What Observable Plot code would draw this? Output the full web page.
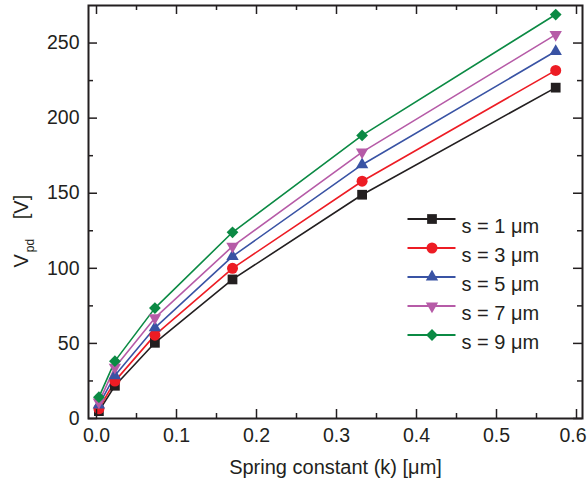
<!DOCTYPE html>
<html>
<head>
<meta charset="utf-8">
<script src="https://cdn.jsdelivr.net/npm/d3@7"></script>
<script src="https://cdn.jsdelivr.net/npm/@observablehq/plot@0.6"></script>
<style>
  html, body { margin: 0; padding: 0; background: #fff; }
</style>
</head>
<body>
<div id="chart"></div>
<script>
// ---- data ----
const kValues = [0.003, 0.023, 0.073, 0.17, 0.332, 0.574];
const seriesNames = ["s = 1 μm", "s = 3 μm", "s = 5 μm", "s = 7 μm", "s = 9 μm"];
const s1 = [4.9, 21.8, 50.4, 92.6, 149.0, 220.3];
const s3 = [6.5, 24.9, 55.5, 100.0, 158.0, 231.8];
const s5 = [9.1, 28.6, 60.4, 108.0, 169.0, 244.5];
const s7 = [10.9, 34.0, 67.0, 114.6, 177.4, 255.6];
const s9 = [14.2, 38.2, 73.5, 124.0, 188.5, 269.0];
const seriesValues = [s1, s3, s5, s7, s9];

const xMajorTicks = [0, 0.1, 0.2, 0.3, 0.4, 0.5, 0.6];
const xMinorTicks = [0.05, 0.15, 0.25, 0.35, 0.45, 0.55];
const yMajorTicks = [0, 50, 100, 150, 200, 250];
const yMinorTicks = [25, 75, 125, 175, 225];

const xLabel = "Spring constant (k) [μm]";
const yLabel = "Vpd [V]";

// ---- styles ----
const ink = "#231f20";
const seriesColors = ["#231f20", "#ed1c24", "#3953a4", "#b65ba7", "#0b8a44"];
const sqrt3 = Math.sqrt(3);
const triangleDown = {
  draw(context, size) {
    const y = -Math.sqrt(size / (sqrt3 * 3));
    context.moveTo(0, -y * 2);
    context.lineTo(-sqrt3 * y, y);
    context.lineTo(sqrt3 * y, y);
    context.closePath();
  }
};
const seriesSymbols = ["square", "circle", "triangle", triangleDown, "diamond2"];
const seriesR = [5.5, 5.5, 4.6, 4.6, 5.3];
const lineShape = {
  draw(context, l) { context.moveTo(0, 0); context.lineTo(0, -l); }
};

const W = 588, H = 494;
const mL = 88, mR = 6, mT = 5, mB = 76;
const innerW = W - mL - mR, innerH = H - mT - mB;
const fontSize = 20;
const tickFont = 19.5;

const marks = [];

// series lines and markers
seriesValues.forEach((vals, i) => {
  const rows = kValues.map((k, j) => ({k, v: vals[j], series: seriesNames[i]}));
  marks.push(Plot.line(rows, {x: "k", y: "v", stroke: seriesColors[i], strokeWidth: 1.6}));
});
seriesValues.forEach((vals, i) => {
  const rows = kValues.map((k, j) => ({k, v: vals[j], series: seriesNames[i]}));
  marks.push(Plot.dot(rows, {x: "k", y: "v", fill: seriesColors[i], symbol: seriesSymbols[i], r: seriesR[i]}));
});

// inward ticks on all four sides
const tk = {stroke: ink, strokeWidth: 1.5};
marks.push(
  Plot.tickX(xMajorTicks, {x: d => d, insetTop: innerH - 9, ...tk}),
  Plot.tickX(xMinorTicks, {x: d => d, insetTop: innerH - 5, ...tk}),
  Plot.tickX(xMajorTicks, {x: d => d, insetBottom: innerH - 9, ...tk}),
  Plot.tickX(xMinorTicks, {x: d => d, insetBottom: innerH - 5, ...tk}),
  Plot.tickY(yMajorTicks, {y: d => d, insetRight: innerW - 9, ...tk}),
  Plot.tickY(yMinorTicks, {y: d => d, insetRight: innerW - 5, ...tk}),
  Plot.tickY(yMajorTicks, {y: d => d, insetLeft: innerW - 9, ...tk}),
  Plot.tickY(yMinorTicks, {y: d => d, insetLeft: innerW - 5, ...tk})
);

marks.push(Plot.frame({stroke: ink, strokeWidth: 2}));

// axes labels
const xFmt = d3.format(".1f");
marks.push(
  Plot.axisX({ticks: xMajorTicks.slice(0, -1), tickSize: 0, tickPadding: 10, tickFormat: xFmt, label: null, fontSize: tickFont, fill: ink}),
  Plot.axisX({ticks: xMajorTicks.slice(-1), tickSize: 0, tickPadding: 10, tickFormat: xFmt, label: null, fontSize: tickFont, fill: ink, dx: -3.5}),
  Plot.axisY({ticks: yMajorTicks, tickSize: 0, tickPadding: 9, tickFormat: d3.format("d"), label: null, fontSize: tickFont, fill: ink}),
  Plot.text([xLabel], {frameAnchor: "bottom", dy: 55, text: d => d, fontSize, fill: ink}),
  Plot.text([yLabel], {frameAnchor: "left", dx: -67, dy: 55.5, rotate: -90, textAnchor: "start", text: d => d, fontSize, fill: ink})
);

// legend
seriesNames.forEach((name, i) => {
  const dy = 213.5 + 29 * i;
  marks.push(
    Plot.vector([name], {frameAnchor: "top-left", dx: 319, dy, length: 48, rotate: 90, anchor: "start", shape: lineShape, stroke: seriesColors[i], strokeWidth: 2, strokeLinecap: "butt"}),
    Plot.dot([name], {frameAnchor: "top-left", dx: 343.5, dy, symbol: seriesSymbols[i], fill: seriesColors[i], r: seriesR[i]}),
    Plot.text([name], {frameAnchor: "top-left", dx: 373, dy, text: d => d, textAnchor: "start", fontSize, fill: ink})
  );
});

const chart = Plot.plot({
  width: W,
  height: H,
  marginLeft: mL,
  marginRight: mR,
  marginTop: mT,
  marginBottom: mB,
  style: {fontFamily: "'Liberation Sans', Arial, sans-serif", fontSize: fontSize + "px", color: ink, background: "#fff"},
  x: {domain: [-0.01, 0.6075], axis: null},
  y: {domain: [0, 275], axis: null},
  marks
});

// subscript in y label
chart.querySelectorAll("text").forEach(t => {
  if (t.textContent === yLabel) {
    t.textContent = "";
    const ns = "http://www.w3.org/2000/svg";
    const a = document.createElementNS(ns, "tspan"); a.textContent = "V";
    const b = document.createElementNS(ns, "tspan"); b.textContent = "pd";
    b.setAttribute("font-size", "12"); b.setAttribute("dy", "6"); b.setAttribute("dx", "2");
    const c = document.createElementNS(ns, "tspan"); c.textContent = " [V]";
    c.setAttribute("dy", "-6"); c.setAttribute("dx", "14");
    t.append(a, b, c);
  }
});

document.getElementById("chart").appendChild(chart);
</script>
</body>
</html>
